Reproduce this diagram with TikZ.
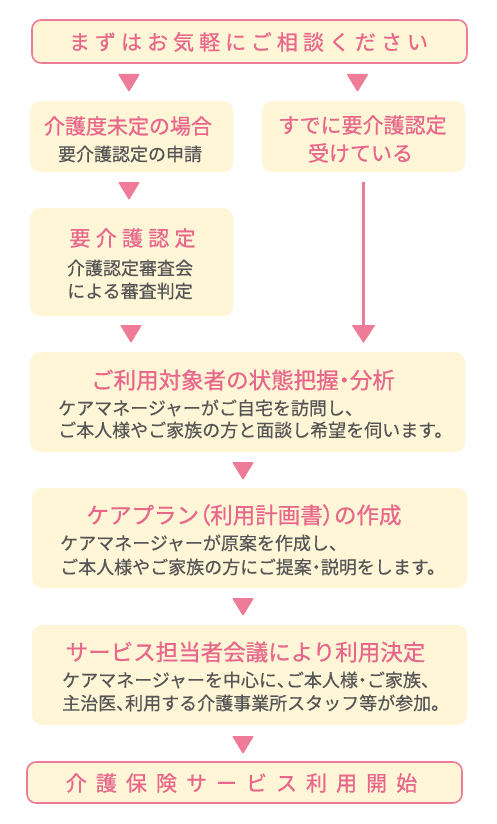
\documentclass[tikz,border=0pt]{standalone}
\usepackage{fontspec}
\setmainfont{Noto Sans CJK JP}
\usetikzlibrary{arrows.meta}
\definecolor{pinktxt}{HTML}{E8678A}
\definecolor{pinkarr}{HTML}{EE7B97}
\definecolor{cream}{HTML}{FFF5D7}
\definecolor{graytxt}{HTML}{555555}
\newcommand\pw[1]{{\addfontfeature{RawFeature=+palt}#1}}
\begin{document}
\begin{tikzpicture}[x=1pt,y=-1pt,
  box/.style={fill=cream, draw=none, rounded corners=10pt, inner sep=0pt, outer sep=0pt},
  endbox/.style={box, draw=pinkarr, line width=1.6pt, rounded corners=9pt},
  ttl/.style={text=pinktxt, font=\fontsize{21}{24}\selectfont\addfontfeature{FakeBold=0.8}, inner sep=0pt, anchor=center},
  bigttl/.style={ttl, font=\fontsize{22.5}{24}\selectfont\addfontfeature{FakeBold=0.8}},
  sub/.style={text=graytxt, font=\fontsize{18}{22}\selectfont\addfontfeature{FakeBold=0.4}, inner sep=0pt, anchor=center, align=center},
  body/.style={text=graytxt, font=\fontsize{18}{22.5}\selectfont\addfontfeature{FakeBold=0.4}, inner sep=0pt, anchor=west, align=left},
  tri/.pic={\fill[pinkarr, rounded corners=1pt] (-11,-9) -- (11,-9) -- (0,9) -- cycle;},
  link/.style={pinkarr, line width=3pt, -{Triangle[width=23pt,length=18pt]}}
]
\useasboundingbox (0,0) rectangle (496,824);

% boxes
\node[endbox, minimum width=435pt, minimum height=43pt] (b1) at (249.5,41.5) {};
\node[box, minimum width=203pt, minimum height=71pt] (b2) at (131.5,136.5) {};
\node[box, minimum width=203pt, minimum height=71pt] (b3) at (363.5,136.5) {};
\node[box, minimum width=203pt, minimum height=108pt] (b4) at (131.5,262) {};
\node[box, minimum width=435pt, minimum height=100pt] (b5) at (247.5,402) {};
\node[box, minimum width=435pt, minimum height=100pt] (b6) at (249.5,538) {};
\node[box, minimum width=435pt, minimum height=100pt] (b7) at (249.5,675) {};
\node[endbox, minimum width=435pt, minimum height=41pt] (b8) at (244.5,782.5) {};

% texts
\node[ttl] (t1) at (246,42) {\addfontfeature{LetterSpace=24}まずはお気軽にご相談ください\kern-5pt};
\node[ttl] (t2) at (128,126) {介護度未定の場合};
\node[sub] (s2) at (130,154) {要介護認定の申請};
\node[ttl] (t3) at (362.5,125) {すでに要介護認定};
\node[ttl] (t3b) at (360.5,153) {受けている};
\node[ttl] (t4) at (130,238) {\addfontfeature{LetterSpace=25}要介護認定\kern-5pt};
\node[sub] (s4) at (130,268) {介護認定審査会};
\node[sub] (s4b) at (130,291) {による審査判定};
\node[bigttl] (t5) at (243,380) {ご利用対象者の状態把握\pw{・}分析};
\node[body] (s5) at (58,408) {ケアマネージャーがご自宅を訪問し、};
\node[body] (s5b) at (58,430) {ご本人様やご家族の方と面談し希望を伺います。};
\node[bigttl] (t6) at (244,515) {ケアプラン\pw{（}利用計画書\pw{）}の作成};
\node[body] (s6) at (60,543) {ケアマネージャーが原案を作成し、};
\node[body] (s6b) at (60,567) {ご本人様やご家族の方にご提案\pw{・}説明をします。};
\node[bigttl] (t7) at (245.5,652) {サービス担当者会議により利用決定};
\node[body] (s7) at (62,680) {ケアマネージャーを中心に\pw{、}ご本人様\pw{・}ご家族、};
\node[body] (s7b) at (62,703) {主治医\pw{、}利用する介護事業所スタッフ等が参加。};
\node[ttl] (t8) at (237,783) {\addfontfeature{LetterSpace=43}介護保険サービス利用開始\kern-9pt};

% arrows
\pic at (129,83) {tri};
\pic at (357.5,83) {tri};
\pic at (129,191) {tri};
\pic at (131,334) {tri};
\pic at (243,471) {tri};
\pic at (243,607) {tri};
\pic at (243,745) {tri};
\draw[link, shorten <=10pt, shorten >=9pt] (b3.south) -- (b3.south |- b5.north);
\end{tikzpicture}
\end{document}
